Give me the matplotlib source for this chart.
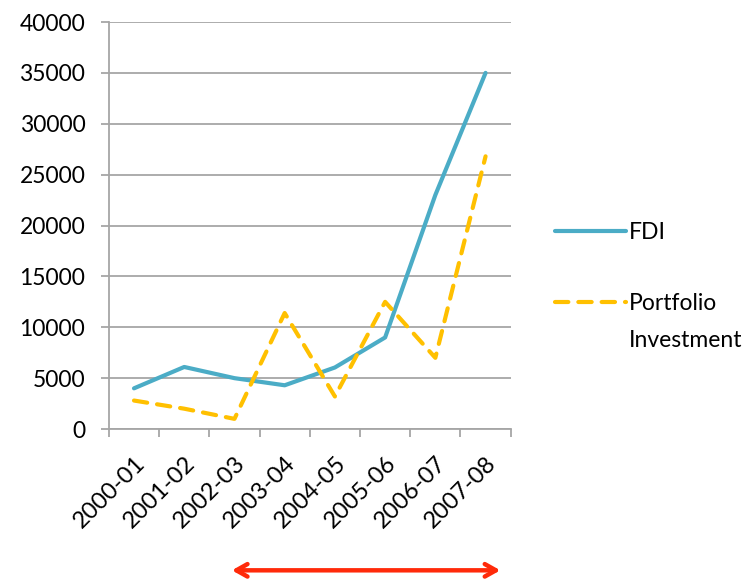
import matplotlib.pyplot as plt

years = ['2000-01', '2001-02', '2002-03', '2003-04', '2004-05',
         '2005-06', '2006-07', '2007-08']
fdi = [4000, 6100, 5000, 4300, 6050, 9000, 23000, 35000]
portfolio = [2800, 2000, 1000, 11400, 3200, 12500, 7000, 26800]
y_ticks = list(range(0, 40001, 5000))

plt.rcParams['font.family'] = ['Lato', 'DejaVu Sans']
grey = '#A6A6A6'
fs = 16.5

fig = plt.figure(figsize=(7.51, 5.79), dpi=100)
ax = fig.add_axes([0.145, 0.259, 0.535, 0.703])

x = [i + 0.5 for i in range(len(years))]
ax.plot(x, fdi, color='#4BACC6', lw=3, solid_capstyle='round', label='FDI')
ax.plot(x, portfolio, color='#FFC000', lw=3, linestyle=(0, (3.2, 2.4)),
        dash_capstyle='round', label='Portfolio')

ax.set_xlim(0, len(years))
ax.set_ylim(0, 40000)
ax.set_yticks(y_ticks)
ax.set_xticks(range(len(years) + 1))
ax.set_xticklabels([])
ax.set_xticks(x, minor=True)
ax.set_xticklabels(years, minor=True, rotation=45, ha='right',
                   rotation_mode='anchor', fontsize=fs + 0.5)
ax.tick_params(axis='x', which='minor', length=0, pad=17)
ax.tick_params(axis='x', which='major', length=6, color=grey, width=1.3)
ax.tick_params(axis='y', length=6, color=grey, width=1.3, labelsize=fs, pad=11)

ax.grid(axis='y', color=grey, lw=1.3)
ax.set_axisbelow(True)
for s in ['top', 'right']:
    ax.spines[s].set_visible(False)
for s in ['left', 'bottom']:
    ax.spines[s].set_color(grey)
    ax.spines[s].set_linewidth(1.3)

leg = fig.legend(loc='upper left', bbox_to_anchor=(0.712, 0.653), frameon=False,
                 fontsize=fs, handlelength=3.1, handletextpad=0.12,
                 labelspacing=2.2)

# second line of the portfolio label sits under its first line
fig.canvas.draw()
bb = leg.get_texts()[1].get_window_extent()
fig.text(bb.x0, bb.y0 - 37, 'Investment', fontsize=fs,
         transform=None, va='bottom', ha='left')

# red double arrow under the x labels
ax.annotate('', xy=(0.67, 0.015), xytext=(0.305, 0.015),
            xycoords='figure fraction', textcoords='figure fraction',
            arrowprops=dict(arrowstyle='<->,head_length=0.8,head_width=0.45',
                            color='#FF2A0A', lw=3.2))

plt.savefig('out.png', dpi=100)
